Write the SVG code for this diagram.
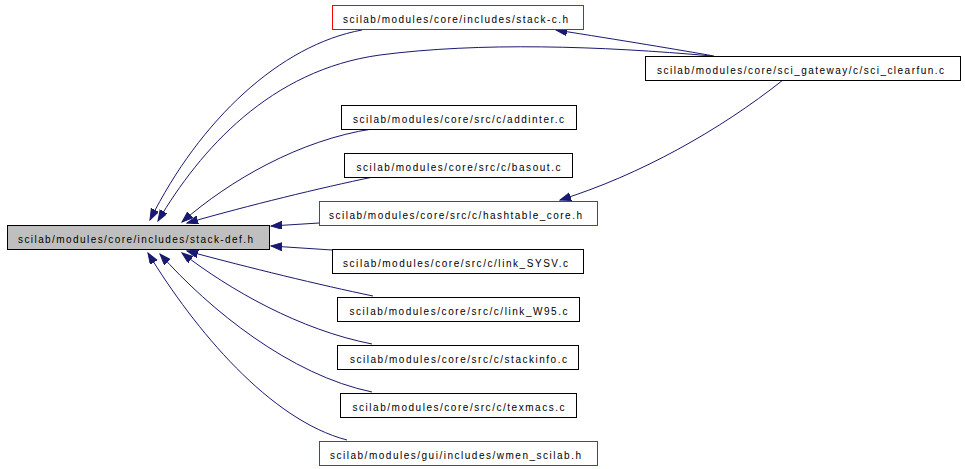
<svg xmlns="http://www.w3.org/2000/svg" width="965" height="469" viewBox="0 0 965 469">
<style>
.n{fill:#fff;stroke:#000;stroke-width:1}
.red{fill:#fff;stroke:#ff0000;stroke-width:1}
.m{fill:#bfbfbf;stroke:#000;stroke-width:1}
text{font-family:"Liberation Sans",Arial,sans-serif;font-size:10px;fill:#000;text-anchor:middle}
.e{fill:none;stroke:#191970;stroke-width:1;marker-end:url(#a)}
</style>
<defs>
<marker id="a" markerUnits="userSpaceOnUse" markerWidth="12" markerHeight="10" refX="11" refY="4" orient="auto">
<path d="M0,0 L11,4 L0,8 z" fill="#191970" stroke="#191970"/>
</marker>
</defs>
<rect width="965" height="469" fill="#fff"/>
<g id="edges">
<path class="e" d="M362,30 C280,45 200,120 150,220"/>
<path class="e" d="M712,56 C600,46 480,42 380,55 C270,70 200,150 158,221"/>
<path class="e" d="M372,129 C300,140 230,180 182,222"/>
<path class="e" d="M373,177 C320,188 250,205 187,223"/>
<path class="e" d="M319,223 L271,226"/>
<path class="e" d="M332,250 L271,246"/>
<path class="e" d="M373,296 C320,285 250,268 187,251"/>
<path class="e" d="M372,344 C300,330 230,290 182,253"/>
<path class="e" d="M372,392 C290,375 210,310 160,254"/>
<path class="e" d="M347,440 C270,420 195,330 148,253"/>
<path class="e" d="M714,56 C680,50 620,40 556,30"/>
<path class="e" d="M783,80 C720,130 640,175 560,200"/>
</g>
<g id="stack-def"><rect class="m" x="7.5" y="225.5" width="262" height="24"/><text x="135.5" y="242.5" textLength="235">scilab/modules/core/includes/stack-def.h</text></g>
<g id="stack-c"><rect class="red" x="332.5" y="5.5" width="251" height="24" stroke="#ff0000"/><text x="455.5" y="22.5" textLength="225">scilab/modules/core/includes/stack-c.h</text></g>
<g id="sci_clearfun"><rect class="n" x="645.5" y="56.5" width="315" height="24"/><text x="800.5" y="73.5" textLength="287">scilab/modules/core/sci_gateway/c/sci_clearfun.c</text></g>
<g id="addinter"><rect class="n" x="341.5" y="105.5" width="235" height="24"/><text x="458.5" y="122.5" textLength="211">scilab/modules/core/src/c/addinter.c</text></g>
<g id="basout"><rect class="n" x="344.5" y="153.5" width="228" height="24"/><text x="458.5" y="170.5" textLength="204">scilab/modules/core/src/c/basout.c</text></g>
<g id="hashtable_core"><rect class="red" x="319.5" y="201.5" width="278" height="24" stroke="#ff0000"/><text x="455.5" y="218.5" textLength="253">scilab/modules/core/src/c/hashtable_core.h</text></g>
<g id="link_SYSV"><rect class="n" x="332.5" y="249.5" width="251" height="24"/><text x="455.5" y="266.5" textLength="225">scilab/modules/core/src/c/link_SYSV.c</text></g>
<g id="link_W95"><rect class="n" x="337.5" y="297.5" width="242" height="24"/><text x="458.5" y="314.5" textLength="218">scilab/modules/core/src/c/link_W95.c</text></g>
<g id="stackinfo"><rect class="n" x="337.5" y="345.5" width="241" height="24"/><text x="458.5" y="362.5" textLength="217">scilab/modules/core/src/c/stackinfo.c</text></g>
<g id="texmacs"><rect class="n" x="340.5" y="393.5" width="236" height="24"/><text x="458.5" y="410.5" textLength="212">scilab/modules/core/src/c/texmacs.c</text></g>
<g id="wmen_scilab"><rect class="red" x="319.5" y="441.5" width="278" height="24" stroke="#ff0000"/><text x="455.5" y="458.5" textLength="251">scilab/modules/gui/includes/wmen_scilab.h</text></g>
</svg>
